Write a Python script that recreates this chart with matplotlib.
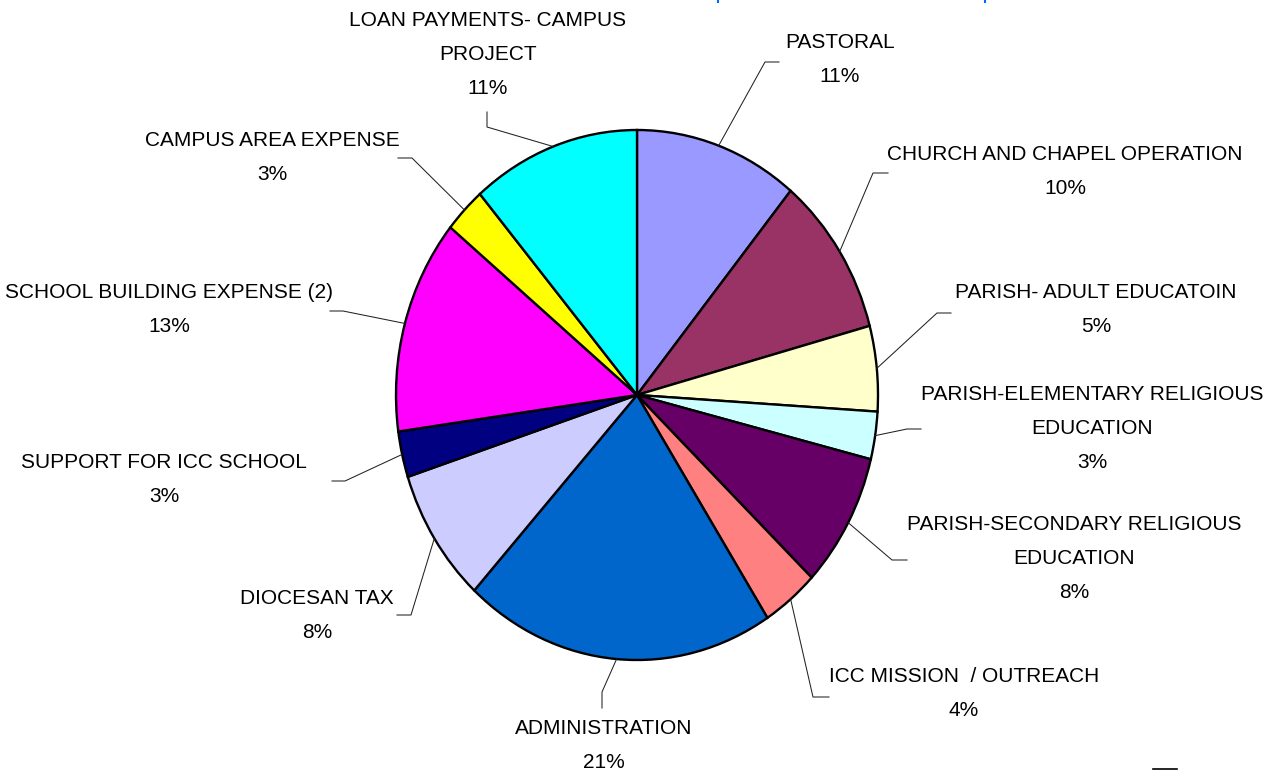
import matplotlib
matplotlib.use("Agg")
import matplotlib.pyplot as plt
from matplotlib import font_manager
from matplotlib.lines import Line2D
import numpy as np

# data: share of budget (percent), clockwise from 12 o'clock
categories = [
    "PASTORAL",
    "CHURCH AND CHAPEL OPERATION",
    "PARISH- ADULT EDUCATOIN",
    "PARISH-ELEMENTARY RELIGIOUS\nEDUCATION",
    "PARISH-SECONDARY RELIGIOUS\nEDUCATION",
    "ICC MISSION  / OUTREACH",
    "ADMINISTRATION",
    "DIOCESAN TAX",
    "SUPPORT FOR ICC SCHOOL",
    "SCHOOL BUILDING EXPENSE (2)",
    "CAMPUS AREA EXPENSE",
    "LOAN PAYMENTS- CAMPUS\nPROJECT",
]
shares = [11.0, 9.8, 5.2, 2.9, 8.2, 3.8, 20.9, 8.2, 2.8, 13.1, 2.8, 11.3]
colors = ["#9999FF", "#993366", "#FFFFCC", "#CCFFFF", "#660066", "#FF8080",
          "#0066CC", "#CCCCFF", "#000080", "#FF00FF", "#FFFF00", "#00FFFF"]

# label layout in pixels (x, y from top): text centre of first line,
# leader elbow, leader tail
label_pos = [(840, 43), (1065, 155), (1096, 293), (1092, 395), (1074, 524),
             (964, 677), (604, 728), (317, 598), (164, 463), (169, 293),
             (272, 140), (488, 20)]
elbows = [(765, 62), (873, 173), (937, 313), (907, 429), (892, 560),
          (813, 697), (602, 692), (411, 615), (345, 481), (343, 311),
          (412, 158), (487, 127)]
tails = [(779, 62), (888, 173), (951, 313), (921, 429), (907, 560),
         (829, 697), (602, 708), (397, 615), (332, 481), (330, 311),
         (398, 158), (487, 112)]

W, H = 1273, 771
names = {f.name for f in font_manager.fontManager.ttflist}
if "Liberation Sans Narrow" in names:
    family, fsize = "Liberation Sans Narrow", 17.5
else:
    family, fsize = "Liberation Sans", 15
plt.rcParams["font.family"] = [family, "DejaVu Sans"]

fig = plt.figure(figsize=(W / 100, H / 100), dpi=100)

# pie is slightly taller than wide in the original
cx, cy, rx, ry = 637, 395, 241, 265
pax = fig.add_axes([(cx - rx) / W, (H - cy - ry) / H, 2 * rx / W, 2 * ry / H])
wedges, _ = pax.pie(shares, colors=colors, startangle=90, counterclock=False,
                    wedgeprops=dict(edgecolor="black", linewidth=1.7))
pax.set_aspect("auto")
pax.set_xlim(-1, 1)
pax.set_ylim(-1, 1)

# overlay axes in pixel coordinates for labels and leaders
ax = fig.add_axes([0, 0, 1, 1], zorder=3)
ax.set_xlim(0, W)
ax.set_ylim(H, 0)
ax.axis("off")
ax.patch.set_alpha(0)

to_px = pax.transData + ax.transData.inverted()
for w, name, v, (lx, ly), (ex, ey), (tx, ty) in zip(
        wedges, categories, shares, label_pos, elbows, tails):
    mid = np.deg2rad((w.theta1 + w.theta2) / 2)
    sx, sy = to_px.transform((np.cos(mid), np.sin(mid)))
    ax.plot([sx, ex, tx], [sy, ey, ty], color="#222222", lw=0.75)
    lines = name.split("\n") + [f"{round(v)}%"]
    for i, t in enumerate(lines):
        ax.text(lx, ly + 34 * i, t, ha="center", va="center", fontsize=fsize,
                color="black")

# stray marks along the edges of the original image
ax.add_line(Line2D([1153, 1177], [769, 769], color="black", lw=1.2))
ax.add_line(Line2D([718, 718], [0, 2], color="#0066FF", lw=1.5))
ax.add_line(Line2D([985, 985], [0, 2], color="#0066FF", lw=1.5))

fig.savefig("out.png", dpi=100)
